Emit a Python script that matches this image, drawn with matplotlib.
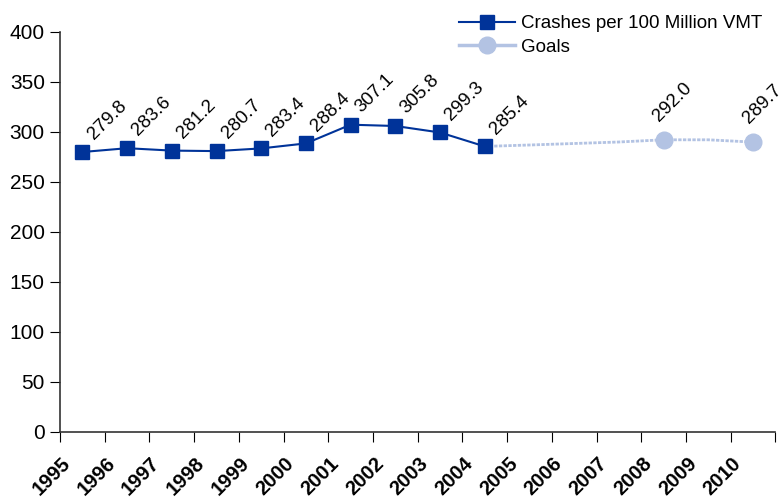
import numpy as np
import matplotlib
matplotlib.use("Agg")
import matplotlib.pyplot as plt

plt.rcParams['font.family'] = ['Liberation Sans Narrow', 'Liberation Sans', 'DejaVu Sans']

years = [str(y) for y in range(1995, 2011)]
crashes = [279.8, 283.6, 281.2, 280.7, 283.4, 288.4, 307.1, 305.8, 299.3, 285.4]
# goal line: starts at the 2004 value, estimated path to the 2008 and 2010 goals
goal_years = years[9:]
goals = [285.4, 286.8, 288.3, 289.8, 292.0, 292.0, 289.7]
goal_labels = {"2008": "292.0", "2010": "289.7"}

dark = "#003399"
light = "#B3C3E3"

fig = plt.figure(figsize=(7.8, 5.04), dpi=100)
ax = fig.add_axes([0.077, 0.143, 0.917, 0.794])

x = np.arange(len(years)) + 0.5
xc = x[:len(crashes)]
xg = x[9:]

# goals line (dotted look) drawn first so crashes sit on top
ax.plot(xg, goals, color=light, linewidth=2, linestyle=(0, (1.2, 0.5)), zorder=2)
gi = [goal_years.index(y) for y in goal_labels]
ax.plot(xg[gi], np.array(goals)[gi], linestyle="none", marker="o", markersize=12,
        color=light, zorder=3)
ax.plot(xc, crashes, color=dark, linewidth=1.5, marker="s", markersize=10, zorder=4)

for xi, v in zip(xc, crashes):
    ax.annotate(f"{v:.1f}", (xi, v), xytext=(8, 8.5), textcoords="offset points",
                rotation=45, rotation_mode="anchor", ha="left", va="baseline", fontsize=13.5)
for y, lab in goal_labels.items():
    i = goal_years.index(y)
    ax.annotate(lab, (xg[i], goals[i]), xytext=(-3, 13), textcoords="offset points",
                rotation=45, rotation_mode="anchor", ha="left", va="baseline", fontsize=13.5)

# legend handles
ax.plot([], [], color=dark, linewidth=1.5, marker="s", markersize=10,
        label="Crashes per 100 Million VMT")
ax.plot([], [], color=light, linewidth=2.5, marker="o", markersize=12, label="Goals")
h, l = ax.get_legend_handles_labels()
fig.legend(h[-2:], l[-2:], loc="upper right", bbox_to_anchor=(0.977, 0.970), frameon=False,
           fontsize=13.5, handlelength=3.0, handletextpad=0.3, labelspacing=0.35,
           borderaxespad=0, borderpad=0)

ax.set_xlim(0, len(years))
ax.set_ylim(0, 400)
ax.set_yticks(np.arange(0, 401, 50))
ax.tick_params(axis="y", labelsize=15, length=7, direction="out", pad=4)
ax.set_xticks(np.arange(len(years) + 1))
ax.set_xticklabels([])
# year labels end near the left boundary of each category
ax.set_xticks(x - 0.48, minor=True)
ax.set_xticklabels(years, minor=True, rotation=45, ha="right", rotation_mode="anchor",
                   fontsize=14.5, fontweight="bold")
ax.tick_params(axis="x", which="major", length=7, direction="out")
ax.tick_params(axis="x", which="minor", length=0, pad=16)

ax.spines["top"].set_visible(False)
ax.spines["right"].set_visible(False)
for s in ("left", "bottom"):
    ax.spines[s].set_color("#333333")
    ax.spines[s].set_linewidth(1.2)

fig.savefig("out.png", dpi=100)
